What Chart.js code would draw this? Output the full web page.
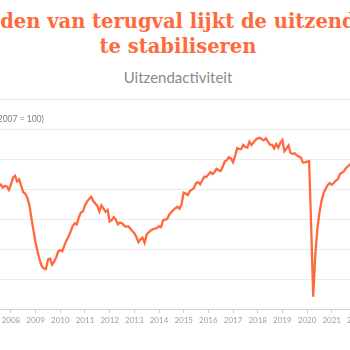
<!DOCTYPE html>
<html>
<head>
<meta charset="utf-8">
<script src="https://cdn.jsdelivr.net/npm/chart.js@4/dist/chart.umd.min.js"></script>
<style>
  html, body { margin: 0; padding: 0; background: #fff; overflow: hidden; }
  .head { position: absolute; left: -172px; width: 700px; text-align: center; white-space: nowrap; }
  #title { top: 9px; font: bold 19.5px/25px "DejaVu Serif"; color: #ff6a3d; }
  #subtitle { top: 68px; font: 15px/18px Lato; color: #8a8a8a; }
  #wrap { position: absolute; left: -60px; top: 0; width: 478px; height: 350px; }
</style>
</head>
<body>
<div id="title" class="head">Na maanden van terugval lijkt de uitzendactiviteit<br>te stabiliseren</div>
<div id="subtitle" class="head">Uitzendactiviteit</div>
<div id="wrap"><canvas id="chart"></canvas></div>
<script>
// monthly index, 2007 = 100
const startYear = 2007;
const endYear = 2024;

const activity2007 = [97.5, 98.2, 99, 98.6, 99.4, 100.2, 101.2, 101.5, 100.5, 101, 100.8, 99.7];
const activity2008 = [101.5, 103.8, 104.4, 102.5, 103.2, 101, 98.9, 98.4, 97, 94.5, 90, 86];
const activity2009 = [82, 79, 76.2, 74.3, 73.5, 73.3, 76.5, 76.8, 74.8, 75.8, 77.2, 79.2];
const activity2010 = [79.6, 79.3, 81.2, 82.8, 84.2, 85.8, 87.6, 88.6, 88.2, 90.5, 92.2, 92.5];
const activity2011 = [94.5, 95.8, 96.7, 97.4, 96, 95.2, 94.4, 92.5, 94.5, 93.5, 92.4, 93];
const activity2012 = [89.2, 89.6, 90.6, 89.8, 88.2, 88.8, 88.6, 87.8, 87.4, 87.6, 86.8, 86];
const activity2013 = [85.3, 84, 82.3, 83.2, 83.8, 82.1, 84.8, 85.6, 86.2, 86.6, 86.8, 87];
const activity2014 = [87.6, 87.3, 89.6, 89.8, 90, 91.5, 92.3, 93, 93.6, 94.1, 93.4, 95];
const activity2015 = [98.8, 98.5, 98, 99.3, 99.8, 100.3, 102, 102.2, 101.6, 102.8, 104.1, 104];
const activity2016 = [104.8, 105.6, 105, 105.6, 106.7, 106.3, 106, 107.4, 109.2, 109.6, 110.6, 110.2];
const activity2017 = [108.9, 111, 113.6, 113.4, 113.3, 114.7, 114, 113.8, 115.8, 114.7, 115.6, 116.4];
const activity2018 = [116.9, 117.1, 116.6, 116.2, 116.9, 115.8, 114.8, 114.7, 113.5, 115, 113.8, 115.4];
const activity2019 = [116.3, 112.6, 113.5, 114.5, 112, 111.7, 111.9, 111.2, 110.8, 110.5, 108.8, 108.9];
const activity2020 = [109.1, 109.3, 88, 64.1, 78, 86.5, 92, 95.8, 98.5, 100, 101.3, 102];
const activity2021 = [101.4, 102, 102.8, 103.3, 105, 105.4, 106, 107, 107.6, 108.2, 109, 109.6];
const activity2022 = [110.4, 111.2, 111.8, 111.5, 112, 111.4, 110.6, 110.9, 109.8, 109.2, 108.5, 107.9];
const activity2023 = [107.2, 106.4, 105.8, 105.1, 104.3, 103.8, 103.2, 102.6, 102.1, 101.9, 101.6, 101.4];
const activity2024 = [101.5];

const yTicks = { min: 60, max: 130, step: 10 };

const values = [].concat(activity2007, activity2008, activity2009, activity2010,
  activity2011, activity2012, activity2013, activity2014, activity2015,
  activity2016, activity2017, activity2018, activity2019, activity2020,
  activity2021, activity2022, activity2023, activity2024);

const months = [];
for (let y = startYear; y <= endYear; y++) {
  for (let m = 1; m <= 12 && months.length < values.length; m++) {
    months.push(y + '-' + String(m).padStart(2, '0'));
  }
}

const isYearStart = i => months[i] && months[i].endsWith('-01');

const orange = '#ff6a3d';

// index note above the plot, left side
const baseNote = {
  id: 'baseNote',
  afterDraw(chart) {
    const ctx = chart.ctx;
    const y = chart.scales.y.getPixelForValue(yTicks.max) + 20;
    ctx.save();
    ctx.font = '8.5px Lato';
    ctx.fillStyle = '#7d7d7d';
    ctx.textAlign = 'left';
    ctx.textBaseline = 'middle';
    ctx.fillText('Index (2007 = 100)', chart.chartArea.left - 13.5, y);
    ctx.restore();
  }
};

new Chart(document.getElementById('chart'), {
  type: 'line',
  data: {
    labels: months,
    datasets: [{
      label: 'Uitzendactiviteit',
      data: values,
      borderColor: orange,
      borderWidth: 2.3,
      pointRadius: 0,
      tension: 0,
      fill: false
    }]
  },
  options: {
    responsive: true,
    maintainAspectRatio: false,
    animation: false,
    layout: { padding: { left: 0, right: 11.8, top: 99, bottom: 21 } },
    plugins: {
      legend: { display: false },
      tooltip: { enabled: false }
    },
    scales: {
      x: {
        afterFit(scale) { scale.height = 20; },
        grid: {
          drawOnChartArea: false,
          drawTicks: true,
          tickLength: 4,
          color: ctx => isYearStart(ctx.index) ? '#cfcfcf' : 'rgba(0,0,0,0)'
        },
        border: { display: true, color: '#cfcfcf' },
        ticks: {
          autoSkip: false,
          maxRotation: 0,
          padding: 3,
          color: '#a0a0a0',
          font: { family: 'Lato', size: 8 },
          callback: (v, i) => isYearStart(i) ? months[i].slice(0, 4) : ''
        }
      },
      y: {
        min: yTicks.min,
        max: yTicks.max,
        afterFit(scale) { scale.width = 46.3; },
        grid: { color: '#ececec', drawTicks: false },
        border: { display: false },
        ticks: {
          stepSize: yTicks.step,
          padding: 4,
          color: '#a0a0a0',
          font: { family: 'Lato', size: 8 }
        }
      }
    }
  },
  plugins: [baseNote]
});
</script>
</body>
</html>
